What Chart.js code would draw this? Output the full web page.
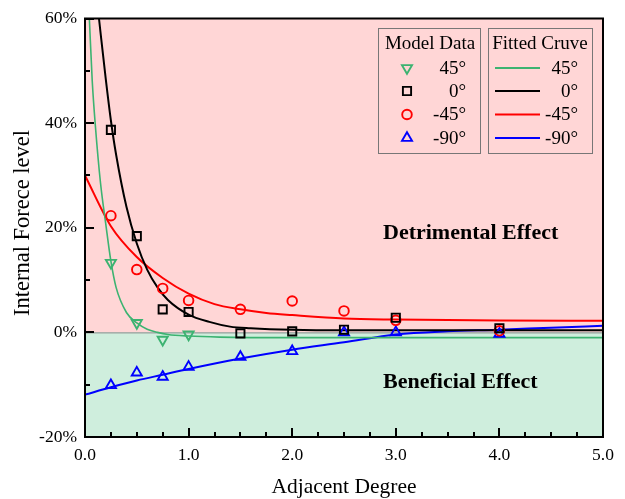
<!DOCTYPE html>
<html>
<head>
<meta charset="utf-8">
<script src="https://cdn.jsdelivr.net/npm/chart.js@4.4.1/dist/chart.umd.min.js"></script>
<style>
  body { margin: 0; background: #fff; }
  #wrap { width: 625px; height: 499px; }
</style>
</head>
<body>
<div id="wrap"><canvas id="forceChart" width="625" height="499"></canvas></div>
<script>
// ---- data ----
const seriesNames = ["45°", "0°", "-45°", "-90°"];
const seriesColors = ["#3CB371", "#000000", "#FF0000", "#0000FF"];

// model data (markers)
const xModel = [0.25, 0.5, 0.75, 1.0, 1.5, 2.0, 2.5, 3.0, 4.0];
const model45 = [13.3, 1.8, -1.4, -0.4, null, null, null, null, null];
const model0 = [38.7, 18.4, 4.4, 3.9, -0.2, 0.2, 0.5, 2.8, 0.8];
const modelM45 = [22.3, 12.0, 8.4, 6.1, 4.4, 6.0, 4.1, 2.3, 0.3];
const modelM90 = [-10.1, -7.7, -8.5, -6.6, -4.7, -3.6, 0.0, 0.0, -0.3];

// fitted curves
const fitX45 = [0.042, 0.07, 0.1, 0.15, 0.2, 0.25, 0.3, 0.4, 0.5, 0.6, 0.7, 0.8, 1.0, 1.3, 2.0, 3.0, 5.0];
const fit45 = [60, 48, 39.5, 28.5, 20.8, 13.6, 8.6, 3.8, 1.8, 0.6, 0.0, -0.4, -0.7, -0.9, -1.0, -1.0, -1.0];
const fitX0 = [0.135, 0.2, 0.25, 0.3, 0.4, 0.5, 0.6, 0.7, 0.8, 1.0, 1.2, 1.4, 1.6, 2.0, 2.5, 3.0, 5.0];
const fit0 = [60, 48.5, 40.5, 34, 24, 17, 12, 8.6, 6.2, 3.4, 2.0, 1.1, 0.8, 0.5, 0.4, 0.4, 0.4];
const fitXM45 = [0, 0.25, 0.5, 0.75, 1.0, 1.25, 1.5, 1.75, 2.0, 2.5, 3.0, 4.0, 5.0];
const fitM45 = [30, 20.3, 14.4, 10.4, 7.4, 5.4, 4.4, 3.7, 3.3, 2.65, 2.45, 2.25, 2.2];
const fitXM90 = [0, 0.25, 0.5, 0.75, 1.0, 1.5, 2.0, 2.5, 3.0, 3.5, 4.0, 4.5, 5.0];
const fitM90 = [-11.9, -10.5, -9.2, -8.1, -7.0, -5.0, -3.3, -1.9, -0.4, 0.2, 0.5, 0.9, 1.25];

const xTitle = "Adjacent Degree";
const yTitle = "Internal Forece level";
const upperNote = "Detrimental Effect";
const lowerNote = "Beneficial Effect";

const FONT = '"Liberation Serif", "Times New Roman", serif';
const PINK = "#FFD6D6";
const MINT = "#CFEEDD";

function toPoints(xs, ys) {
  const pts = [];
  xs.forEach((x, i) => { if (ys[i] !== null) pts.push({ x: x, y: ys[i] }); });
  return pts;
}

// marker styles for the model data
const markers = [
  { style: "triangle", rot: 180, r: 5.8 },
  { style: "rect", rot: 0, r: 5.8 },
  { style: "circle", rot: 0, r: 4.8 },
  { style: "triangle", rot: 0, r: 5.8 }
];
const curveWidths = [1.6, 2, 2, 2];

function modelSet(i, ys) {
  return {
    type: "scatter",
    label: seriesNames[i],
    data: toPoints(xModel, ys),
    showLine: false,
    pointStyle: markers[i].style,
    pointRotation: markers[i].rot,
    pointRadius: markers[i].r,
    pointBorderWidth: 1.9,
    pointBorderColor: seriesColors[i],
    pointBackgroundColor: "rgba(0,0,0,0)",
    order: 0
  };
}

function fitSet(i, xs, ys) {
  return {
    type: "line",
    label: seriesNames[i] + " fit",
    data: toPoints(xs, ys),
    borderColor: seriesColors[i],
    borderWidth: curveWidths[i],
    pointRadius: 0,
    cubicInterpolationMode: "monotone",
    fill: false,
    order: 1
  };
}

// simple marker drawing for the custom legend
function drawMarker(ctx, kind, x, y, color) {
  const m = markers[kind];
  ctx.save();
  ctx.strokeStyle = color;
  ctx.lineWidth = 1.9;
  ctx.beginPath();
  if (m.style === "circle") {
    ctx.arc(x, y, m.r, 0, Math.PI * 2);
  } else if (m.style === "rect") {
    const s = m.r * Math.SQRT1_2;
    ctx.rect(x - s, y - s, 2 * s, 2 * s);
  } else {
    const dir = m.rot === 180 ? -1 : 1;
    const h = m.r;
    ctx.moveTo(x, y - dir * h);
    ctx.lineTo(x + h * 0.866, y + dir * h * 0.5);
    ctx.lineTo(x - h * 0.866, y + dir * h * 0.5);
    ctx.closePath();
  }
  ctx.stroke();
  ctx.restore();
}

const decorPlugin = {
  id: "decor",
  beforeDatasetsDraw(chart) {
    const { ctx, chartArea: a, scales: { y } } = chart;
    const y0 = y.getPixelForValue(0);
    ctx.save();
    ctx.fillStyle = PINK;
    ctx.fillRect(a.left, a.top, a.right - a.left, y0 - a.top);
    ctx.fillStyle = MINT;
    ctx.fillRect(a.left, y0, a.right - a.left, a.bottom - y0);
    ctx.strokeStyle = "#888";
    ctx.lineWidth = 1;
    ctx.beginPath();
    ctx.moveTo(a.left, y0 + 0.5);
    ctx.lineTo(a.right, y0 + 0.5);
    ctx.stroke();
    ctx.restore();
  },
  afterDraw(chart) {
    const { ctx, chartArea: a, scales: { x, y } } = chart;
    ctx.save();

    // frame
    ctx.strokeStyle = "#000";
    ctx.lineWidth = 2;
    ctx.strokeRect(a.left, a.top, a.right - a.left, a.bottom - a.top);

    // inward ticks
    ctx.lineWidth = 2;
    ctx.beginPath();
    x.ticks.forEach(t => {
      const px = Math.round(x.getPixelForValue(t.value));
      const len = Number.isInteger(t.value) ? 9 : 5;
      ctx.moveTo(px, a.bottom);
      ctx.lineTo(px, a.bottom - len);
    });
    y.ticks.forEach(t => {
      const py = Math.round(y.getPixelForValue(t.value));
      const len = t.value % 20 === 0 ? 9 : 5;
      ctx.moveTo(a.left, py);
      ctx.lineTo(a.left + len, py);
    });
    ctx.stroke();

    // axis titles
    ctx.fillStyle = "#000";
    ctx.font = "21.5px " + FONT;
    ctx.textAlign = "center";
    ctx.textBaseline = "middle";
    ctx.fillText(xTitle, (a.left + a.right) / 2, 487);
    ctx.save();
    ctx.font = "22.5px " + FONT;
    ctx.translate(23, 223);
    ctx.rotate(-Math.PI / 2);
    ctx.fillText(yTitle, 0, 0);
    ctx.restore();

    // region notes
    ctx.font = "bold 22px " + FONT;
    ctx.textAlign = "left";
    ctx.fillText(upperNote, 383, 233);
    ctx.fillText(lowerNote, 383, 382);

    // legend boxes
    ctx.strokeStyle = "#777";
    ctx.lineWidth = 1;
    ctx.strokeRect(378.5, 28.5, 102, 125);
    ctx.strokeRect(488.5, 28.5, 104, 125);
    ctx.font = "19px " + FONT;
    ctx.textAlign = "center";
    ctx.fillText("Model Data", 430, 44);
    ctx.fillText("Fitted Cruve", 540, 44);
    const rowY = [68, 91, 114.5, 138];
    ctx.textAlign = "right";
    seriesNames.forEach((name, i) => {
      drawMarker(ctx, i, 407, rowY[i], seriesColors[i]);
      ctx.fillStyle = "#000";
      ctx.fillText(name, 466, rowY[i] + 1);
      ctx.strokeStyle = seriesColors[i];
      ctx.lineWidth = 2;
      ctx.beginPath();
      ctx.moveTo(495, rowY[i]);
      ctx.lineTo(540, rowY[i]);
      ctx.stroke();
      ctx.fillText(name, 578, rowY[i] + 1);
    });
    ctx.restore();
  }
};

new Chart(document.getElementById("forceChart"), {
  data: {
    datasets: [
      modelSet(0, model45),
      modelSet(1, model0),
      modelSet(2, modelM45),
      modelSet(3, modelM90),
      fitSet(0, fitX45, fit45),
      fitSet(1, fitX0, fit0),
      fitSet(2, fitXM45, fitM45),
      fitSet(3, fitXM90, fitM90)
    ]
  },
  options: {
    responsive: false,
    animation: false,
    layout: { padding: { top: 18, right: 22, left: 0, bottom: 0 } },
    plugins: { legend: { display: false }, tooltip: { enabled: false } },
    scales: {
      x: {
        type: "linear",
        min: 0, max: 5,
        afterFit: s => { s.height = 62; },
        grid: { display: false, drawTicks: false },
        border: { display: false },
        ticks: {
          stepSize: 0.25,
          autoSkip: false,
          maxRotation: 0,
          padding: 8,
          color: "#000",
          font: { family: FONT, size: 17.5 },
          callback: v => Number.isInteger(v) ? v.toFixed(1) : ""
        }
      },
      y: {
        type: "linear",
        min: -20, max: 60,
        afterFit: s => { s.width = 85; },
        grid: { display: false, drawTicks: false },
        border: { display: false },
        ticks: {
          stepSize: 10,
          autoSkip: false,
          padding: 8,
          color: "#000",
          font: { family: FONT, size: 17.5 },
          callback: v => v % 20 === 0 ? v + "%" : ""
        }
      }
    }
  },
  plugins: [decorPlugin]
});
</script>
</body>
</html>
